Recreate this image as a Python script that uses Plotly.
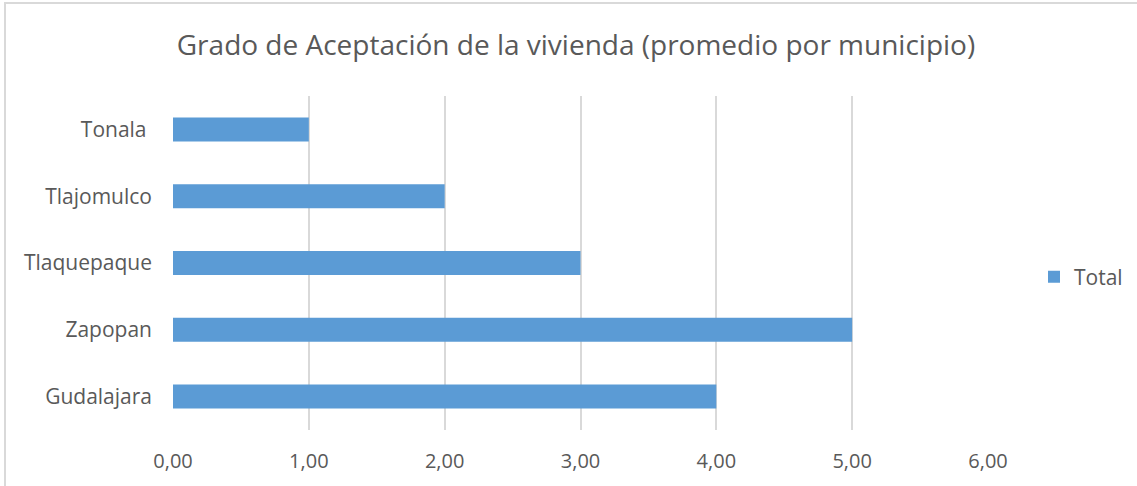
import plotly.graph_objects as go

# Municipalities and their average acceptance scores
municipios = ["Gudalajara", "Zapopan", "Tlaquepaque", "Tlajomulco", "Tonala\u00a0"]
promedios = [4.0, 5.0, 3.0, 2.0, 1.0]
tick_vals = [0, 1, 2, 3, 4, 5, 6]
tick_text = ["0,00", "1,00", "2,00", "3,00", "4,00", "5,00", "6,00"]

W, H = 1137, 486
ML, MR, MT, MB = 173, 149, 96, 56
pw = W - ML - MR
ph = H - MT - MB

text_color = "#595959"
font_family = "'Open Sans', sans-serif"

fig = go.Figure()
fig.add_trace(go.Bar(
    y=municipios,
    x=promedios,
    orientation="h",
    name="Total",
    marker=dict(color="#5B9BD5", line=dict(width=0)),
    width=0.36,
    showlegend=True,
))

fig.update_layout(
    width=W,
    height=H,
    margin=dict(l=ML, r=MR, t=MT, b=MB, autoexpand=False),
    paper_bgcolor="white",
    plot_bgcolor="white",
    font=dict(family=font_family, color=text_color, size=21),
    title=dict(
        text="Grado de Aceptación de la vivienda (promedio por municipio)",
        x=576 / W,
        xanchor="center",
        y=1 - 45 / H,
        yanchor="middle",
        font=dict(size=28, color=text_color, family=font_family),
    ),
    xaxis=dict(
        range=[0, 6],
        tickvals=tick_vals,
        ticktext=tick_text,
        showgrid=True,
        gridcolor="#D9D9D9",
        gridwidth=2,
        zeroline=False,
        showline=False,
        ticks="",
        ticklabelstandoff=17,
        tickfont=dict(size=20, color=text_color),
        fixedrange=True,
    ),
    yaxis=dict(
        showgrid=False,
        zeroline=False,
        showline=False,
        ticks="",
        ticklabelstandoff=20,
        tickfont=dict(size=21, color=text_color),
        fixedrange=True,
    ),
    legend=dict(
        x=(1034 - ML) / pw,
        xanchor="left",
        y=1 - (277 - MT) / ph,
        yanchor="middle",
        font=dict(size=21, color=text_color),
        itemwidth=30,
        bgcolor="rgba(0,0,0,0)",
    ),
    bargap=0.64,
)

# Chart-area frame
fig.add_shape(
    type="rect",
    xref="paper", yref="paper",
    x0=(5 - ML) / pw, x1=(W + 20 - ML) / pw,
    y0=1 - (H + 20 - MT) / ph, y1=1 - (3 - MT) / ph,
    line=dict(color="#D9D9D9", width=2),
    fillcolor="rgba(0,0,0,0)",
    layer="below",
)

fig.write_html("out.html")
